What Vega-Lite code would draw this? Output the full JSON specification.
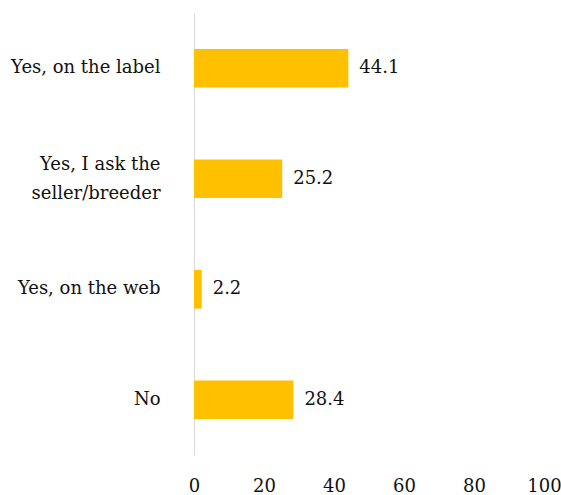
{
  "$schema": "https://vega.github.io/schema/vega-lite/v6.json",
  "autosize": "none",
  "padding": {"left": 194, "top": 13, "right": 17, "bottom": 40},
  "width": 350,
  "height": 442,
  "background": "white",
  "config": {"view": {"stroke": null}, "font": "DejaVu Serif"},
  "data": {
    "values": [
      {"answer": "Yes, on the label", "pct": 44.1},
      {"answer": "Yes, I ask the|seller/breeder", "pct": 25.2},
      {"answer": "Yes, on the web", "pct": 2.2},
      {"answer": "No", "pct": 28.4}
    ]
  },
  "encoding": {
    "y": {
      "field": "answer",
      "type": "nominal",
      "sort": null,
      "title": null,
      "scale": {"paddingInner": 0.65, "paddingOuter": 0.325},
      "axis": {
        "ticks": false,
        "domainColor": "#d9d9d9",
        "domainWidth": 1,
        "labelFont": "DejaVu Serif",
        "labelFontSize": 18,
        "labelColor": "#111111",
        "labelPadding": 34,
        "labelLineHeight": 29,
        "labelOffset": {"condition": {"test": "indexof(datum.value, '|') >= 0", "value": -14}, "value": 0},
        "labelExpr": "split(datum.value, '|')",
        "labelLimit": 300
      }
    },
    "x": {
      "field": "pct",
      "type": "quantitative",
      "title": null,
      "scale": {"domain": [0, 100]},
      "axis": {
        "values": [0, 20, 40, 60, 80, 100],
        "grid": false,
        "domain": false,
        "ticks": false,
        "labelFlush": false,
        "labelFont": "DejaVu Serif",
        "labelFontSize": 18,
        "labelColor": "#111111",
        "labelPadding": 22
      }
    }
  },
  "layer": [
    {"mark": {"type": "bar", "color": "#FFC000"}},
    {
      "mark": {"type": "text", "align": "left", "dx": 11, "font": "DejaVu Serif", "fontSize": 18, "color": "#111111"},
      "encoding": {"text": {"field": "pct", "type": "quantitative", "format": ".1f"}}
    }
  ]
}
